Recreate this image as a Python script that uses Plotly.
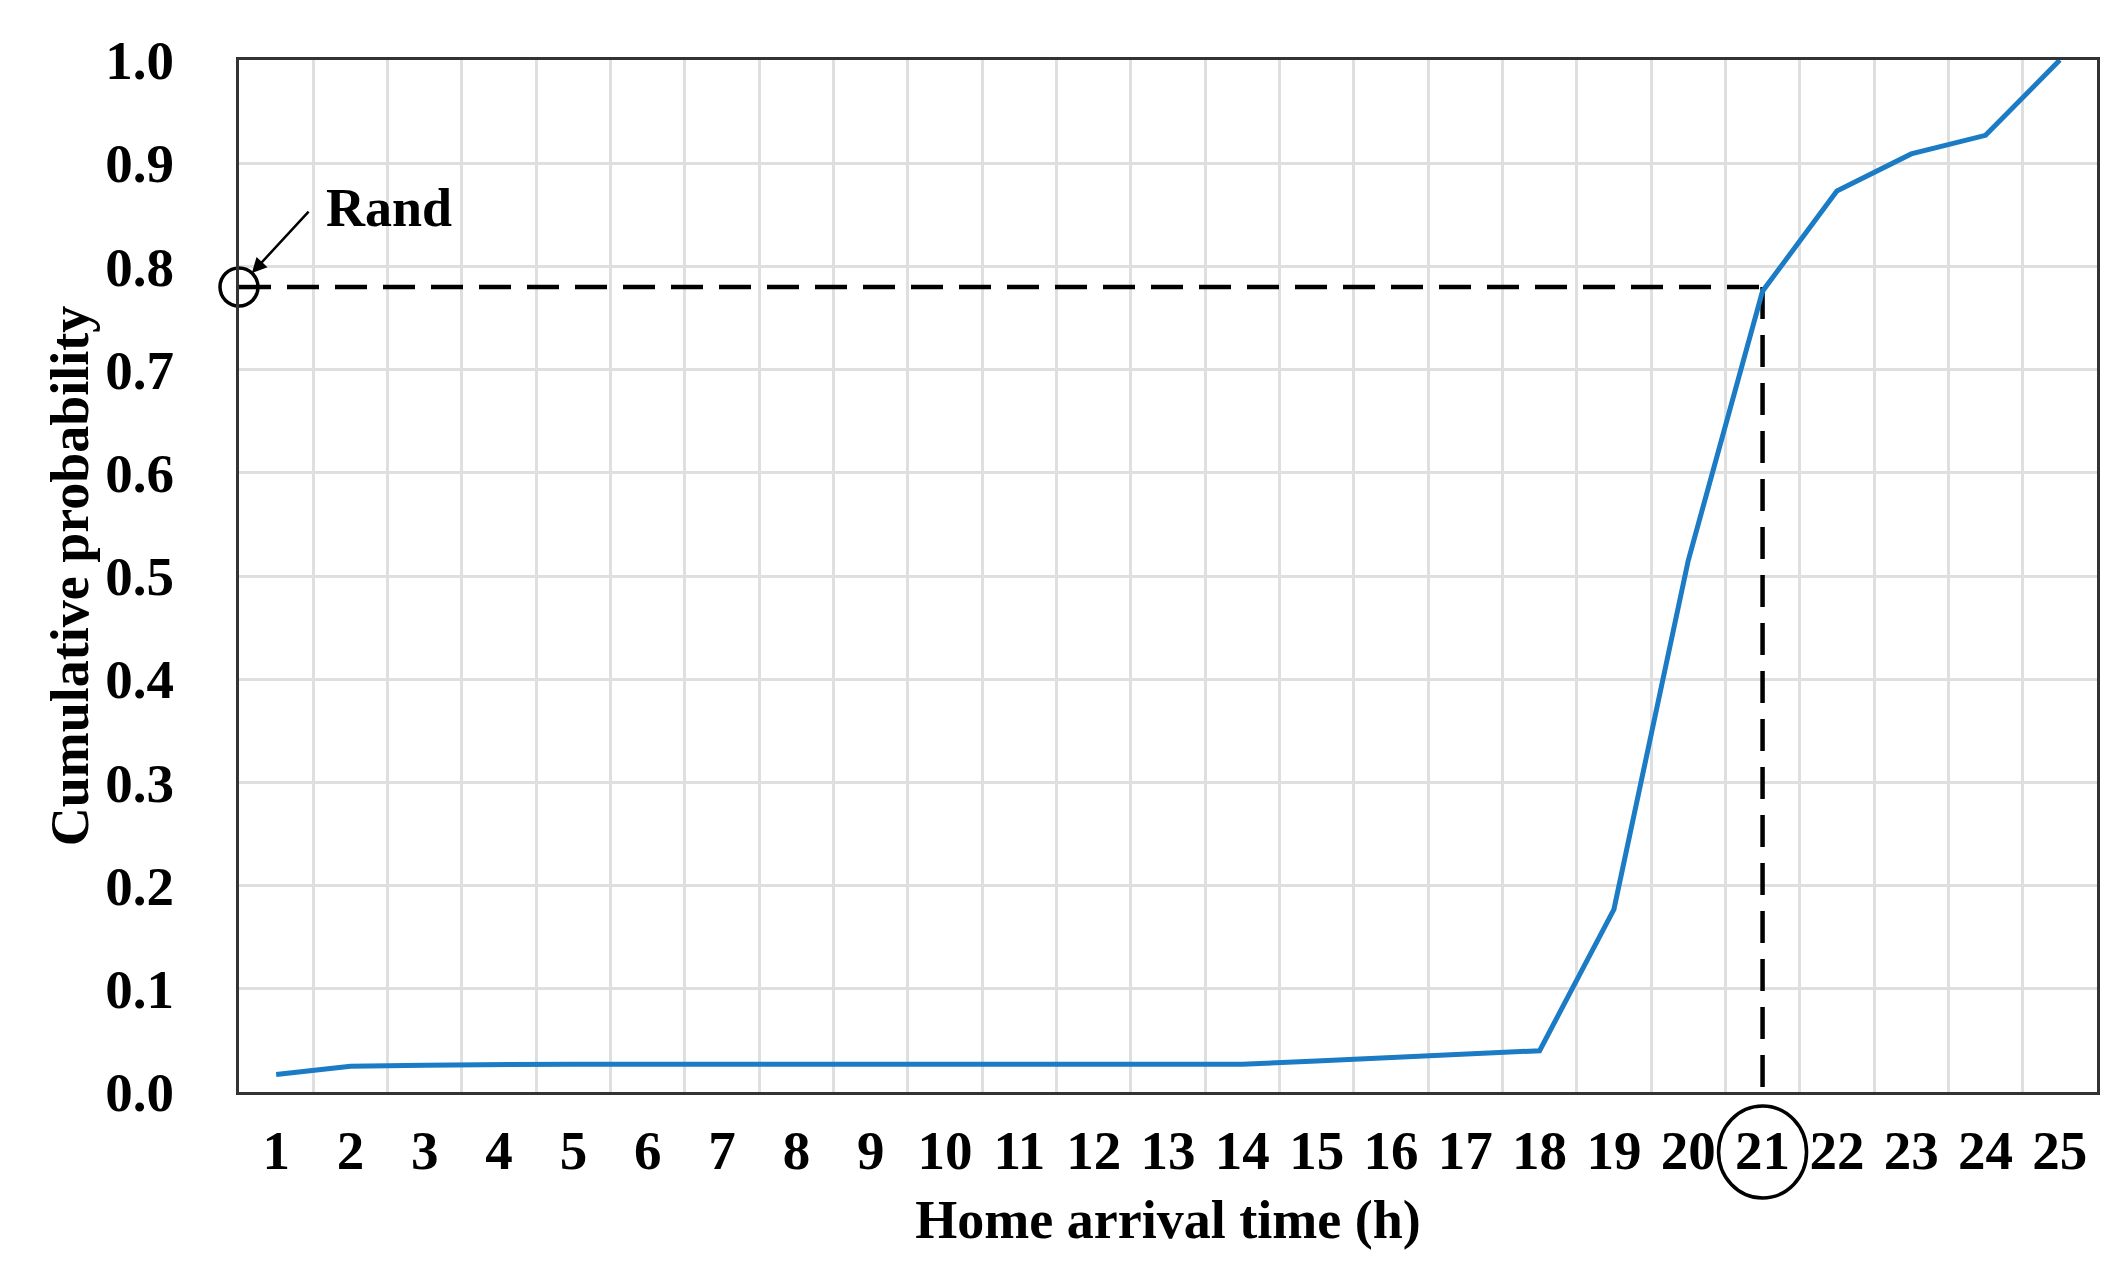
import plotly.graph_objects as go

hours = list(range(1, 26))
cum_prob = [0.017, 0.025, 0.026, 0.027, 0.027, 0.027, 0.027, 0.027, 0.027, 0.027,
            0.027, 0.027, 0.027, 0.027, 0.030, 0.033, 0.037, 0.040, 0.177, 0.515,
            0.776, 0.873, 0.909, 0.927, 1.000]
rand_value = 0.78
chosen_hour = 21
y_ticks = [round(i * 0.1, 1) for i in range(11)]

FONT = "Liberation Serif"
fig = go.Figure()

# dashed guide lines
fig.add_trace(go.Scatter(x=[0.5, chosen_hour], y=[rand_value, rand_value], mode="lines",
                         line=dict(color="black", width=4.5, dash="32px,16px"),
                         hoverinfo="skip", showlegend=False, cliponaxis=False))
fig.add_trace(go.Scatter(x=[chosen_hour, chosen_hour], y=[rand_value, -0.006], mode="lines",
                         line=dict(color="black", width=4.5, dash="32px,16px"),
                         hoverinfo="skip", showlegend=False, cliponaxis=False))

# main curve
fig.add_trace(go.Scatter(x=hours, y=cum_prob, mode="lines",
                         line=dict(color="#1b7bc4", width=5),
                         showlegend=False, cliponaxis=False))

# circle at Rand on the y axis
fig.add_trace(go.Scatter(x=[0.5], y=[rand_value], mode="markers",
                         marker=dict(symbol="circle-open", size=38, color="black",
                                     line=dict(color="black", width=3.5)),
                         hoverinfo="skip", showlegend=False, cliponaxis=False))
# circle around the chosen tick label (below the plot area)
fig.add_shape(type="circle", xref="x", yref="paper", xsizemode="pixel", ysizemode="pixel",
              xanchor=chosen_hour, yanchor=0, x0=-44, x1=44, y0=-106, y1=-14,
              line=dict(color="black", width=3.5))

# arrow
fig.add_annotation(x=0.5, y=rand_value, xref="x", yref="y", text="", showarrow=True,
                   ax=71, ay=-77, arrowhead=2, arrowsize=1.2, arrowwidth=2.5,
                   arrowcolor="black", standoff=19)
fig.add_annotation(x=1.65, y=0.857, xref="x", yref="y", text="<b>Rand</b>", showarrow=False,
                   xanchor="left", yanchor="middle",
                   font=dict(family=FONT, size=54, color="black"))

fig.update_layout(
    width=2125, height=1263,
    margin=dict(l=231, r=36, t=52, b=179),
    paper_bgcolor="white", plot_bgcolor="white",
    font=dict(family=FONT, size=54, color="black"),
)
fig.update_xaxes(
    range=[0.5, 25.5], tickvals=hours, ticktext=[f"<b>{h}</b>" for h in hours],
    showgrid=False, zeroline=False, automargin=False,
    showline=True, mirror=True, linecolor="#333333", linewidth=3,
    ticks="", ticklabelstandoff=8,
    tickfont=dict(family=FONT, size=55, color="black"),
    minor=dict(tick0=0.5, dtick=1, showgrid=True, gridcolor="#dfdfdf", gridwidth=2.5, ticks=""),
    title=dict(text="<b>Home arrival time (h)</b>", standoff=21,
               font=dict(family=FONT, size=54, color="black")),
)
fig.update_yaxes(
    range=[0, 1], tickvals=y_ticks, ticktext=[f"<b>{v:.1f}</b>" for v in y_ticks],
    showgrid=True, gridcolor="#dfdfdf", gridwidth=2.5, zeroline=False, automargin=False,
    showline=True, mirror=True, linecolor="#333333", linewidth=3,
    ticks="", ticklabelstandoff=51,
    tickfont=dict(family=FONT, size=55, color="black"),
    title=dict(text="<b>Cumulative probability</b>", standoff=0,
               font=dict(family=FONT, size=54, color="black")),
)

fig.write_html("out.html")
